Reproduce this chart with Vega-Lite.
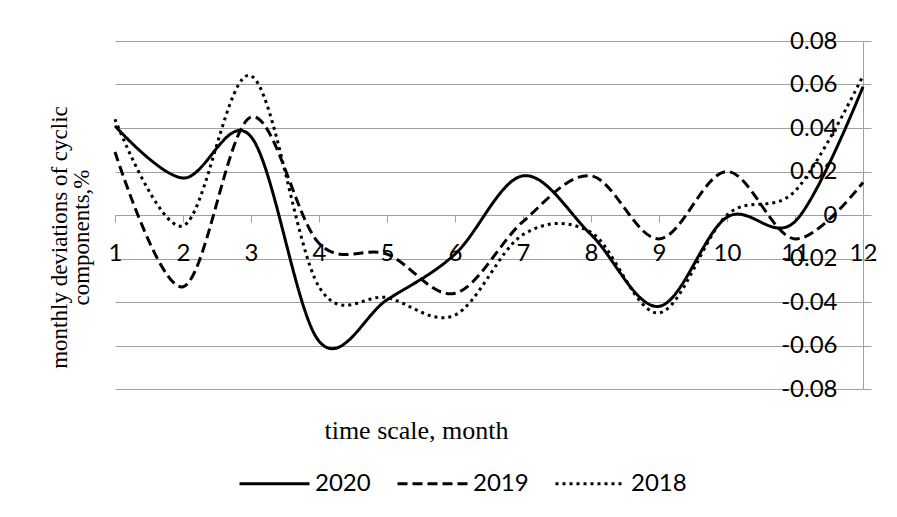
{
  "$schema": "https://vega.github.io/schema/vega-lite/v6.json",
  "width": 748,
  "height": 348,
  "autosize": "none",
  "padding": {"left": 115, "top": 41, "right": 34, "bottom": 128},
  "background": "white",
  "config": {"view": {"stroke": null}},
  "data": {
    "values": [
      {"month": 1, "year": "2020", "value": 0.041},
      {"month": 2, "year": "2020", "value": 0.017},
      {"month": 3, "year": "2020", "value": 0.036},
      {"month": 4, "year": "2020", "value": -0.058},
      {"month": 5, "year": "2020", "value": -0.039},
      {"month": 6, "year": "2020", "value": -0.018},
      {"month": 7, "year": "2020", "value": 0.018},
      {"month": 8, "year": "2020", "value": -0.009},
      {"month": 9, "year": "2020", "value": -0.042},
      {"month": 10, "year": "2020", "value": -0.001},
      {"month": 11, "year": "2020", "value": -0.003},
      {"month": 12, "year": "2020", "value": 0.059},
      {"month": 1, "year": "2019", "value": 0.029},
      {"month": 2, "year": "2019", "value": -0.033},
      {"month": 3, "year": "2019", "value": 0.045},
      {"month": 4, "year": "2019", "value": -0.013},
      {"month": 5, "year": "2019", "value": -0.018},
      {"month": 6, "year": "2019", "value": -0.036},
      {"month": 7, "year": "2019", "value": -0.003},
      {"month": 8, "year": "2019", "value": 0.018},
      {"month": 9, "year": "2019", "value": -0.011},
      {"month": 10, "year": "2019", "value": 0.020},
      {"month": 11, "year": "2019", "value": -0.011},
      {"month": 12, "year": "2019", "value": 0.015},
      {"month": 1, "year": "2018", "value": 0.044},
      {"month": 2, "year": "2018", "value": -0.005},
      {"month": 3, "year": "2018", "value": 0.064},
      {"month": 4, "year": "2018", "value": -0.033},
      {"month": 5, "year": "2018", "value": -0.038},
      {"month": 6, "year": "2018", "value": -0.046},
      {"month": 7, "year": "2018", "value": -0.009},
      {"month": 8, "year": "2018", "value": -0.008},
      {"month": 9, "year": "2018", "value": -0.045},
      {"month": 10, "year": "2018", "value": 0.000},
      {"month": 11, "year": "2018", "value": 0.011},
      {"month": 12, "year": "2018", "value": 0.064}
    ]
  },
  "mark": {"type": "line", "interpolate": "cardinal", "tension": 0, "color": "black", "strokeWidth": 3},
  "encoding": {
    "x": {
      "field": "month",
      "type": "quantitative",
      "scale": {"domain": [1, 12], "nice": false, "zero": false},
      "axis": {
        "orient": "bottom",
        "offset": -174,
        "values": [1, 2, 3, 4, 5, 6, 7, 8, 9, 10, 11, 12],
        "format": "d",
        "grid": false,
        "tickSize": 7,
        "tickColor": "#a0a0a0",
        "domainColor": "#a0a0a0",
        "labelPadding": 19,
        "labelFont": "Lato",
        "labelFontSize": 24,
        "labelColor": "black",
        "labelFlush": false,
        "labelOverlap": false,
        "title": "time scale, month",
        "titleFont": "Liberation Serif",
        "titleFontSize": 26,
        "titleFontWeight": "normal",
        "titleColor": "black",
        "titleX": 301,
        "titleY": 223,
        "titleAlign": "center",
        "titleBaseline": "alphabetic"
      }
    },
    "y": {
      "field": "value",
      "type": "quantitative",
      "scale": {"domain": [-0.08, 0.08], "nice": false},
      "axis": {
        "orient": "right",
        "values": [-0.08, -0.06, -0.04, -0.02, 0, 0.02, 0.04, 0.06, 0.08],
        "labelExpr": "datum.value == 0 ? '0' : replace(format(datum.value, '.2f'), '\u2212', '-')",
        "grid": true,
        "gridColor": "#a0a0a0",
        "gridWidth": 1,
        "tickSize": 8,
        "tickColor": "#a0a0a0",
        "domainColor": "#a0a0a0",
        "labelPadding": -34,
        "labelAlign": "right",
        "labelBaseline": "middle",
        "labelFont": "Lato",
        "labelFontSize": 24,
        "labelColor": "black",
        "labelFlush": false,
        "labelOverlap": false,
        "title": ["monthly deviations of cyclic", "components,%"],
        "titleFont": "Liberation Serif",
        "titleFontSize": 23,
        "titleFontWeight": "normal",
        "titleColor": "black",
        "titleAngle": -90,
        "titleX": -804,
        "titleY": 196,
        "titleAlign": "center",
        "titleBaseline": "middle",
        "titleLineHeight": 22
      }
    },
    "strokeDash": {
      "field": "year",
      "type": "nominal",
      "scale": {"domain": ["2020", "2019", "2018"], "range": [[1, 0], [10, 5], [3, 4]]},
      "legend": {
        "orient": "none",
        "legendX": 123,
        "legendY": 406,
        "direction": "horizontal",
        "title": null,
        "padding": 0,
        "symbolType": "stroke",
        "symbolSize": 4900,
        "symbolStrokeWidth": 3,
        "symbolStrokeColor": "black",
        "labelFont": "Lato",
        "labelFontSize": 24,
        "labelColor": "black",
        "labelOffset": 4,
        "columnPadding": 20
      }
    }
  }
}
